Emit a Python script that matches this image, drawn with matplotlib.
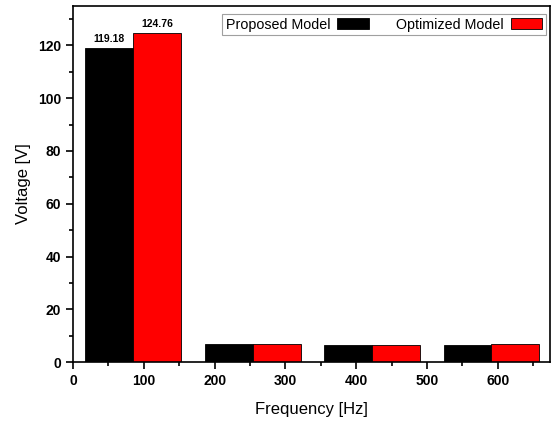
import matplotlib.pyplot as plt
import numpy as np
from matplotlib.ticker import MultipleLocator

plt.rcParams['font.family'] = ['Liberation Sans', 'DejaVu Sans']

# group centres on the frequency axis and bar values
freq_centres = [85, 254, 422, 591]
proposed = [119.18, 6.7, 6.4, 6.3]
optimized = [124.76, 6.7, 6.5, 6.8]
labels = ['Proposed Model', 'Optimized Model']

width = 67.5
x = np.array(freq_centres)

fig = plt.figure(figsize=(5.53, 4.21), dpi=100)
ax = fig.add_axes([0.132, 0.14, 0.863, 0.846])

b1 = ax.bar(x - width / 2, proposed, width, color='black', edgecolor='black',
            linewidth=0.6, label=labels[0])
b2 = ax.bar(x + width / 2, optimized, width, color='#ff0000', edgecolor='black',
            linewidth=0.6, label=labels[1])

# value labels only on the first group
ax.text(x[0] - width / 2, proposed[0] + 1.5, f'{proposed[0]:.2f}', ha='center',
        va='bottom', fontsize=7.5, fontweight='bold')
ax.text(x[0] + width / 2, optimized[0] + 1.5, f'{optimized[0]:.2f}', ha='center',
        va='bottom', fontsize=7.5, fontweight='bold')

ax.set_xlim(0, 674)
ax.set_ylim(0, 135)
ax.xaxis.set_major_locator(MultipleLocator(100))
ax.xaxis.set_minor_locator(MultipleLocator(50))
ax.yaxis.set_major_locator(MultipleLocator(20))
ax.yaxis.set_minor_locator(MultipleLocator(10))
ax.tick_params(which='major', direction='out', length=5, width=1.2, labelsize=10)
ax.tick_params(which='minor', direction='out', length=3, width=1.2)
for lbl in ax.get_xticklabels() + ax.get_yticklabels():
    lbl.set_fontweight('bold')
for s in ax.spines.values():
    s.set_linewidth(1.2)

ax.set_xlabel('Frequency [Hz]', fontsize=12, labelpad=10)
ax.set_ylabel('Voltage [V]', fontsize=12, labelpad=5)

leg = ax.legend(handles=[b1, b2], ncol=2, markerfirst=False, loc='upper right',
                bbox_to_anchor=(0.997, 0.985), fontsize=10.3, frameon=True,
                fancybox=False, edgecolor='#888888', handlelength=2.2,
                handleheight=0.75, columnspacing=1.9, borderpad=0.25,
                handletextpad=0.5, borderaxespad=0.2)
leg.get_frame().set_linewidth(0.8)

fig.savefig('out.png', dpi=100)
